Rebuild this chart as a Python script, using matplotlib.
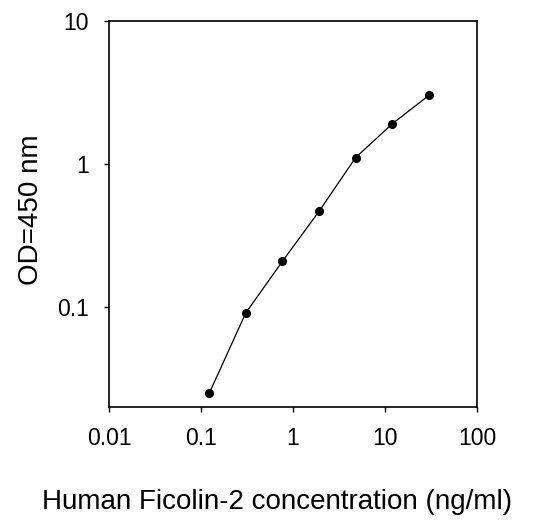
# standard curve: OD450 vs Ficolin-2 concentration, log-log

import matplotlib
matplotlib.use('Agg')
import matplotlib.pyplot as plt
from matplotlib.ticker import FixedLocator, NullLocator

plt.rcParams['font.family'] = ['Liberation Sans', 'DejaVu Sans']

# Data
conc = [0.123, 0.307, 0.768, 1.92, 4.8, 12, 30]
od = [0.025, 0.091, 0.209, 0.467, 1.11, 1.91, 3.02]

x_ticks = [0.01, 0.1, 1, 10, 100]
x_labels = ['0.01', '0.1', '1', '10', '100']
y_ticks = [0.1, 1, 10]
y_labels = ['0.1', '1', '10']

fig = plt.figure(figsize=(5.6, 5.25), dpi=100)
ax = fig.add_axes([109/560, 1 - 407/525, (477 - 109)/560, (407 - 21)/525])

ax.plot(conc, od, color='black', lw=0.9, marker='o', ms=5.5)

ax.set_xscale('log')
ax.set_yscale('log')
ax.set_xlim(0.01, 100)
ax.set_ylim(0.02, 10)

ax.xaxis.set_major_locator(FixedLocator(x_ticks))
ax.xaxis.set_minor_locator(NullLocator())
ax.set_xticklabels(x_labels)
ax.yaxis.set_major_locator(FixedLocator(y_ticks))
ax.yaxis.set_minor_locator(NullLocator())
ax.set_yticklabels(y_labels)

ax.tick_params(labelsize=16.5, length=3.5, width=1, pad=11, colors='black')
for s in ax.spines.values():
    s.set_linewidth(1.2)

# axis titles placed by hand to sit where the reference has them
fig.text(277/560, 1 - 509/525, 'Human Ficolin-2 concentration (ng/ml)',
         fontsize=20, ha='center', va='baseline')
fig.text(31/560, 1 - 210/525, 'OD=450 nm', fontsize=20, rotation=90,
         ha='center', va='center')

fig.savefig('out.png', dpi=100)
